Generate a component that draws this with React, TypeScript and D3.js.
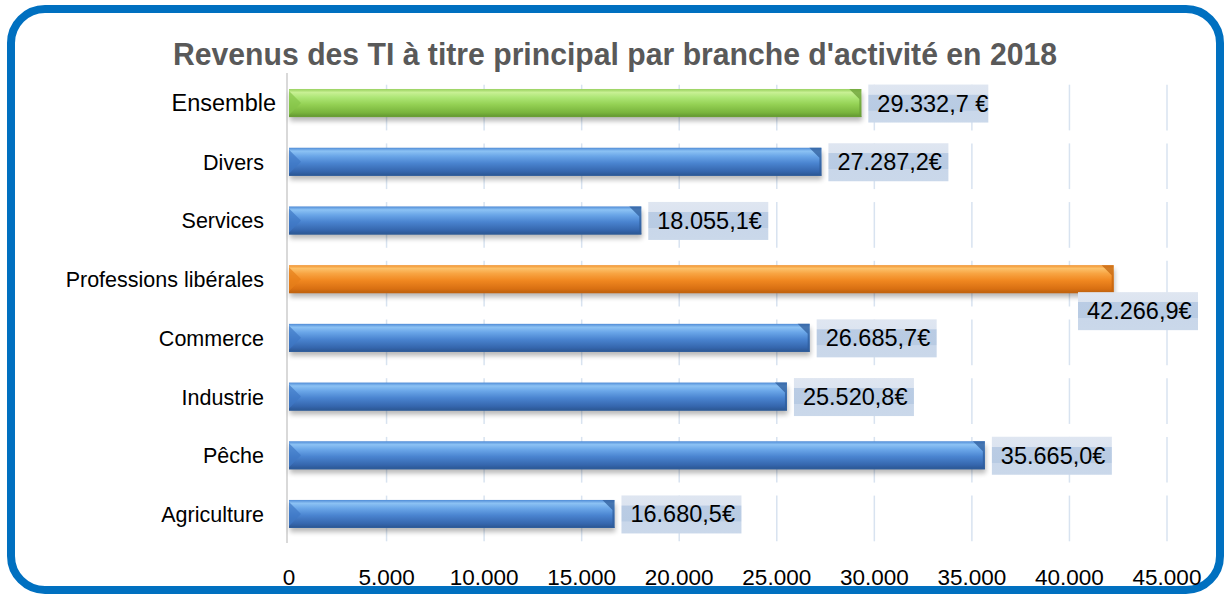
import React from "react";
import * as d3 from "d3";

const categories = ["Ensemble", "Divers", "Services", "Professions libérales", "Commerce", "Industrie", "Pêche", "Agriculture"];
const values = [29332.7, 27287.2, 18055.1, 42266.9, 26685.7, 25520.8, 35665.0, 16680.5];
const barKinds = ["green", "blue", "blue", "orange", "blue", "blue", "blue", "blue"];
const labelSuffix = [" €", "€", "€", "€", "€", "€", "€", "€"];
const tickValues = [0, 5000, 10000, 15000, 20000, 25000, 30000, 35000, 40000, 45000];
const title = "Revenus des TI à titre principal par branche d'activité en 2018";

const W = 1226;
const H = 594;
const FONT = "'Liberation Sans', Arial, Helvetica, sans-serif";

const locale = d3.formatLocale({ decimal: ",", thousands: ".", grouping: [3], currency: ["", "€"] });
const fmtTick = locale.format(",.0f");
const fmtVal = locale.format(",.1f");

const palettes: Record<string, { stops: [number, string][]; left: string; right: string }> = {
  blue: {
    stops: [[0, "#4f8bd6"], [0.12, "#8cc2f4"], [0.3, "#6aa6e8"], [0.55, "#4a84d0"], [0.85, "#3566ad"], [1, "#2b5590"]],
    left: "#3f78c4",
    right: "#2f5e9c",
  },
  green: {
    stops: [[0, "#96d05a"], [0.12, "#c8f094"], [0.3, "#ade676"], [0.55, "#94d154"], [0.85, "#78b33c"], [1, "#5f9430"]],
    left: "#86c44a",
    right: "#6a9f35",
  },
  orange: {
    stops: [[0, "#f19331"], [0.12, "#fcc16a"], [0.3, "#f8a442"], [0.55, "#f08720"], [0.85, "#d86f12"], [1, "#b8600e"]],
    left: "#e57f1a",
    right: "#c4640e",
  },
};

export default function App() {
  const x = d3.scaleLinear().domain([0, 45000]).range([289, 1167]);
  const y = d3.scaleBand<string>().domain(categories).range([73.7, 543.3]).padding(0);
  const step = y.step();
  const barH = 28;
  const plotRight = 1198;
  const boxW = 120;
  const boxH = 38;

  return (
    <svg width={W} height={H} style={{ position: "absolute", left: 0, top: 0, background: "#fff" }} fontFamily={FONT}>
      <defs>
        {Object.entries(palettes).map(([k, p]) => (
          <linearGradient key={k} id={`g-${k}`} x1="0" y1="0" x2="0" y2="1">
            {p.stops.map(([o, c], i) => (
              <stop key={i} offset={o} stopColor={c} />
            ))}
          </linearGradient>
        ))}
        <linearGradient id="lbl" x1="0" y1="0" x2="0" y2="1">
          <stop offset="0" stopColor="#dfe6f1" />
          <stop offset="0.26" stopColor="#dce4f0" />
          <stop offset="0.27" stopColor="#bacce4" />
          <stop offset="0.68" stopColor="#b8cbe3" />
          <stop offset="0.69" stopColor="#c9d7ea" />
          <stop offset="1" stopColor="#cad8ea" />
        </linearGradient>
        <filter id="shadow" x="-5%" y="-50%" width="110%" height="200%">
          <feGaussianBlur stdDeviation="2.5" />
        </filter>
      </defs>

      <rect x={11} y={9} width={1209} height={581} rx={34} ry={34} fill="#fff" stroke="#0070c0" strokeWidth={8} />

      <text x={615} y={65} textAnchor="middle" fontSize={31} fontWeight="bold" fill="#595959" textLength={884} lengthAdjust="spacingAndGlyphs">
        {title}
      </text>

      {/* gridlines */}
      {tickValues.slice(1).map((t) => (
        <g key={t}>
          {categories.map((c) => {
            const top = y(c)!;
            return (
              <line key={c} x1={x(t)} x2={x(t)} y1={top + 11} y2={top + step - 2} stroke="#d8e3f0" strokeWidth={1.5} />
            );
          })}
        </g>
      ))}

      {/* axis line */}
      <line x1={287} x2={287} y1={73} y2={543} stroke="#d9d9d9" strokeWidth={2} />

      {/* bars */}
      {categories.map((c, i) => {
        const cy = y(c)! + step / 2;
        const x0 = x(0);
        const x1 = x(values[i]);
        const top = cy - barH / 2;
        const bot = cy + barH / 2;
        const p = palettes[barKinds[i]];
        return (
          <g key={c}>
            <rect x={x0 + 1} y={top + 4} width={x1 - x0} height={barH} fill="#000" opacity={0.28} filter="url(#shadow)" />
            <rect x={x0} y={top} width={x1 - x0} height={barH} fill={`url(#g-${barKinds[i]})`} />
            <polygon points={`${x0},${top + 2} ${x0 + 12},${cy} ${x0},${bot - 2}`} fill={p.left} opacity={0.7} />
            <polygon points={`${x1 - 12},${top} ${x1},${top} ${x1},${bot} ${x1 - 2},${bot - 2} ${x1 - 2},${top + 10}`} fill={p.right} opacity={0.75} />
            <line x1={x0} x2={x1} y1={bot - 0.5} y2={bot - 0.5} stroke={p.right} strokeWidth={1} />
          </g>
        );
      })}

      {/* category labels */}
      {categories.map((c, i) => {
        const cy = y(c)! + step / 2;
        const big = i === 0;
        return (
          <text key={c} x={big ? 276 : 264} y={cy + (big ? 7.5 : 8)} textAnchor="end" fontSize={big ? 23.5 : 21.5} fill="#000">
            {c}
          </text>
        );
      })}

      {/* value labels */}
      {categories.map((c, i) => {
        const cy = y(c)! + step / 2;
        const x1 = x(values[i]);
        let bx = x1 + 7;
        let by = cy - boxH / 2 + 0.5;
        if (bx + boxW > plotRight) {
          bx = plotRight - boxW;
          by = cy + barH / 2 - 1;
        }
        return (
          <g key={c}>
            <rect x={bx} y={by} width={boxW} height={boxH} fill="url(#lbl)" />
            <text x={bx + 9} y={by + boxH / 2 + 8} fontSize={23.5} fill="#000">
              {fmtVal(values[i]) + labelSuffix[i]}
            </text>
          </g>
        );
      })}

      {/* tick labels */}
      {tickValues.map((t) => (
        <text key={t} x={x(t)} y={585} textAnchor="middle" fontSize={22.5} fill="#000">
          {fmtTick(t)}
        </text>
      ))}
    </svg>
  );
}
